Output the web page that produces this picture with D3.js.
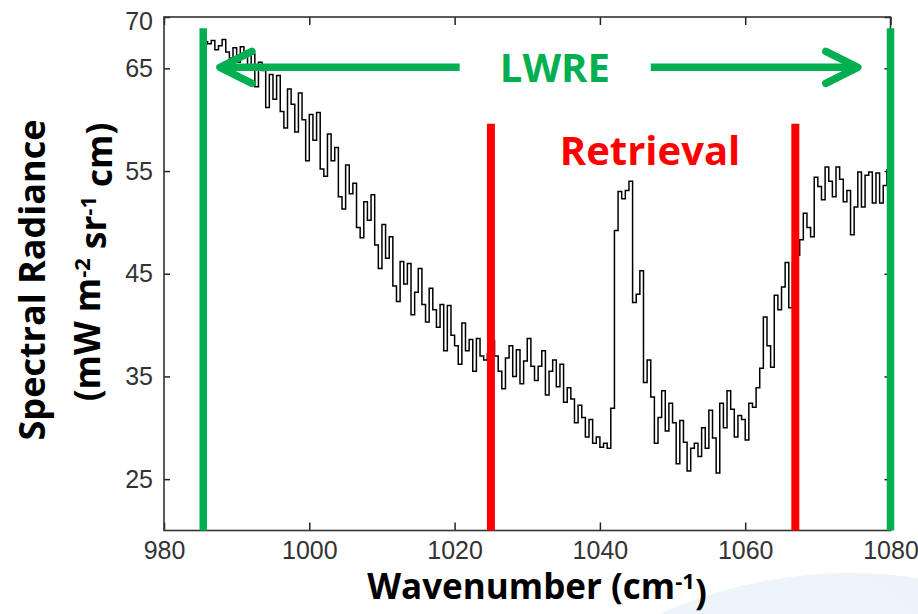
<!DOCTYPE html>
<html>
<head>
<meta charset="utf-8">
<script src="https://cdn.jsdelivr.net/npm/d3@7"></script>
<style>
  html, body { margin: 0; padding: 0; background: #fff; }
  svg { display: block; }
</style>
</head>
<body>
<div id="chart"></div>
<script>
// ---------------- DATA ----------------
const waveStart = 985.5;      // cm^-1, first sample
const waveStep = 0.5;         // cm^-1 sample spacing
// Spectral radiance (mW m^-2 sr^-1 cm), 10 samples per row
const radiance = [
  67.6, 67.4, 67.7, 66.8, 67.2, 67.8, 66.6, 66.0, 67.0, 65.6,   // 985.5 - 990.0
  67.1, 66.2, 65.0, 66.4, 63.2, 65.6, 64.8, 61.2, 64.4, 62.0,   // 990.5 - 995.0
  64.3, 60.8, 59.2, 63.0, 61.5, 58.8, 62.6, 60.0, 56.0, 60.5,   // 995.5 - 1000.0
  58.0, 60.7, 55.2, 54.5, 58.6, 56.0, 57.3, 52.5, 51.3, 55.6,   // 1000.5 - 1005.0
  52.8, 53.8, 49.5, 48.5, 52.0, 50.2, 52.7, 47.8, 45.5, 49.8,   // 1005.5 - 1010.0
  46.5, 48.6, 43.8, 42.3, 46.2, 44.0, 46.0, 41.0, 43.2, 45.5,   // 1010.5 - 1015.0
  42.0, 40.3, 43.6, 41.5, 39.8, 42.0, 37.5, 41.9, 39.0, 38.0,   // 1015.5 - 1020.0
  36.2, 40.2, 37.5, 38.6, 35.5, 38.7, 37.0, 36.6, 37.2, 38.5,   // 1020.5 - 1025.0
  37.0, 35.5, 33.8, 36.8, 38.0, 35.0, 37.6, 34.3, 36.5, 38.7,   // 1025.5 - 1030.0
  36.0, 34.6, 36.0, 37.5, 33.2, 35.5, 36.6, 34.0, 36.2, 32.5,   // 1030.5 - 1035.0
  33.9, 32.8, 30.5, 32.2, 31.0, 29.1, 30.8, 28.5, 29.1, 28.1,   // 1035.5 - 1040.0
  28.5, 28.0, 31.9, 49.2, 53.0, 52.3, 53.1, 54.0, 42.2, 43.0,   // 1040.5 - 1045.0
  45.3, 34.4, 36.6, 33.0, 28.5, 31.0, 33.6, 29.7, 32.4, 30.5,   // 1045.5 - 1050.0
  26.5, 30.7, 28.6, 25.8, 28.0, 28.5, 27.2, 30.0, 28.0, 31.7,   // 1050.5 - 1055.0
  29.0, 25.6, 32.4, 30.0, 33.6, 31.8, 29.1, 31.2, 30.8, 28.8,   // 1055.5 - 1060.0
  32.4, 32.0, 33.9, 35.8, 40.8, 38.0, 35.9, 42.9, 41.5, 43.7,   // 1060.5 - 1065.0
  46.1, 41.7, 46.1, 46.8, 48.3, 50.9, 49.5, 48.6, 54.4, 53.5,   // 1065.5 - 1070.0
  52.2, 55.4, 54.0, 52.5, 55.4, 54.2, 52.0, 53.1, 48.8, 51.5,   // 1070.5 - 1075.0
  54.9, 51.5, 54.6, 54.9, 51.9, 54.8, 51.9, 53.6, 55.1, 52.2    // 1075.5 - 1080.0
];
const xTicks = [980, 1000, 1020, 1040, 1060, 1080];
const yTicks = [25, 35, 45, 55, 65, 70];
const xDomain = [980, 1080];
const yDomain = [20, 70];

// Annotation positions (data units)
const lwreBounds = [985.4, 1080];         // green vertical lines
const retrievalBounds = [1025.0, 1066.9]; // red vertical lines
const greenTop = 68.9;
const redTop = 59.6;
const arrowLevel = 65.1;
const leftArrow = [1020.7, 987.7];   // tail, tip
const rightArrow = [1047.0, 1075.5]; // tail, tip
const lwreLabel = { text: "LWRE", x: 1033.8 };
const retrievalLabel = { text: "Retrieval", x: 1046.9 };

// ---------------- CHART ----------------
const W = 918, H = 614;
const svg = d3.select("#chart").append("svg").attr("width", W).attr("height", H);

// faint globe in background (bottom right)
const defs = svg.append("defs");
const grad = defs.append("radialGradient").attr("id", "globe").attr("cx", "40%").attr("cy", "20%").attr("r", "60%");
grad.append("stop").attr("offset", "0%").attr("stop-color", "#eef5fb");
grad.append("stop").attr("offset", "100%").attr("stop-color", "#dde9f5");
svg.append("circle").attr("cx", 850).attr("cy", 1034).attr("r", 461).attr("fill", "url(#globe)").attr("opacity", 0.8);

const x = d3.scaleLinear().domain(xDomain).range([164, 890.5]);
const y = d3.scaleLinear().domain(yDomain).range([530.5, 17]);

// white plot background
svg.append("rect").attr("x", x(980)).attr("y", y(70)).attr("width", x(1080) - x(980)).attr("height", y(20) - y(70)).attr("fill", "#fff");

const data = radiance.map((v, i) => ({ w: waveStart + i * waveStep, v }));

// spectrum
svg.append("path")
  .datum(data)
  .attr("fill", "none")
  .attr("stroke", "#000")
  .attr("stroke-width", 1.5)
  .attr("d", d3.line().x(d => x(d.w)).y(d => y(d.v)).curve(d3.curveStepAfter));

// axes
const tickFont = "'Liberation Sans', Arial, sans-serif";
const gx = svg.append("g").attr("transform", `translate(0,${y(20)})`)
  .call(d3.axisBottom(x).tickValues(xTicks).tickSizeInner(-8).tickSizeOuter(0).tickPadding(11).tickFormat(d3.format("d")));
const gxTop = svg.append("g").attr("transform", `translate(0,${y(70)})`)
  .call(d3.axisTop(x).tickValues(xTicks).tickSizeInner(-8).tickSizeOuter(0).tickFormat(""));
const gy = svg.append("g").attr("transform", `translate(${x(980)},0)`)
  .call(d3.axisLeft(y).tickValues(yTicks).tickSizeInner(-6).tickSizeOuter(0).tickPadding(11).tickFormat(d3.format("d")));
const gyR = svg.append("g").attr("transform", `translate(${x(1080)},0)`)
  .call(d3.axisRight(y).tickValues(yTicks).tickSizeInner(-6).tickSizeOuter(0).tickFormat(""));

[gx, gxTop, gy, gyR].forEach(g => {
  g.select(".domain").remove();
  g.selectAll(".tick line").attr("stroke", "#222").attr("stroke-width", 1.5);
  g.selectAll(".tick text").attr("fill", "#333").style("font-family", tickFont).style("font-size", "25px");
});
gy.selectAll(".tick text").filter(d => d === 70).attr("dy", "0.5em");

// box
svg.append("rect")
  .attr("x", x(980)).attr("y", y(70)).attr("width", x(1080) - x(980)).attr("height", y(20) - y(70))
  .attr("fill", "none").attr("stroke", "#333").attr("stroke-width", 1.6);

// annotations: vertical lines
const green = "#00B050", red = "#FF0000";
svg.selectAll(".gline").data(lwreBounds).join("line")
  .attr("x1", d => x(d)).attr("x2", d => x(d)).attr("y1", y(greenTop)).attr("y2", y(20))
  .attr("stroke", green).attr("stroke-width", 7.5);
svg.selectAll(".rline").data(retrievalBounds).join("line")
  .attr("x1", d => x(d)).attr("x2", d => x(d)).attr("y1", y(redTop)).attr("y2", y(20))
  .attr("stroke", red).attr("stroke-width", 8);

// arrows
function arrow(tail, tip) {
  const dir = Math.sign(tip - tail);
  const yy = y(arrowLevel);
  const g = svg.append("g").attr("stroke", green).attr("stroke-width", 7.5).attr("fill", "none")
    .attr("stroke-linecap", "round").attr("stroke-linejoin", "round");
  g.append("line").attr("x1", x(tail)).attr("x2", x(tip) - dir * 3).attr("y1", yy).attr("y2", yy).attr("stroke-linecap", "butt");
  g.append("path").attr("d", `M${x(tip) - dir * 32},${yy - 16} L${x(tip)},${yy} L${x(tip) - dir * 32},${yy + 16}`);
}
arrow(leftArrow[0], leftArrow[1]);
arrow(rightArrow[0], rightArrow[1]);

const labelFont = "'Open Sans', 'Noto Sans', sans-serif";
svg.append("text").attr("x", x(lwreLabel.x)).attr("y", 82).attr("text-anchor", "middle")
  .attr("fill", green).style("font-family", labelFont).style("font-weight", "bold").style("font-size", "40px")
  .text(lwreLabel.text);
svg.append("text").attr("x", x(retrievalLabel.x)).attr("y", 165).attr("text-anchor", "middle")
  .attr("fill", red).style("font-family", labelFont).style("font-weight", "bold").style("font-size", "40px")
  .text(retrievalLabel.text);

// axis titles
const xt = svg.append("text").attr("x", 537).attr("y", 599).attr("text-anchor", "middle")
  .style("font-family", labelFont).style("font-weight", "bold").style("font-size", "35px").attr("fill", "#000");
xt.append("tspan").text("Wavenumber (cm");
xt.append("tspan").attr("dy", "-0.45em").style("font-size", "22px").text("-1");
xt.append("tspan").attr("dy", "0.45em").text(")");

const yt = svg.append("g").attr("transform", "translate(0,0) rotate(-90)");
yt.append("text").attr("x", -280).attr("y", 45).attr("text-anchor", "middle")
  .style("font-family", labelFont).style("font-weight", "bold").style("font-size", "36px").attr("fill", "#000")
  .text("Spectral Radiance");
const yt2 = yt.append("text").attr("x", -262).attr("y", 100).attr("text-anchor", "middle")
  .style("font-family", labelFont).style("font-weight", "bold").style("font-size", "35px").attr("fill", "#000");
yt2.append("tspan").text("(mW m");
yt2.append("tspan").attr("dy", "-0.45em").style("font-size", "22px").text("-2");
yt2.append("tspan").attr("dy", "0.45em").text(" sr");
yt2.append("tspan").attr("dy", "-0.45em").style("font-size", "22px").text("-1");
yt2.append("tspan").attr("dy", "0.45em").text(" cm)");
</script>
</body>
</html>
